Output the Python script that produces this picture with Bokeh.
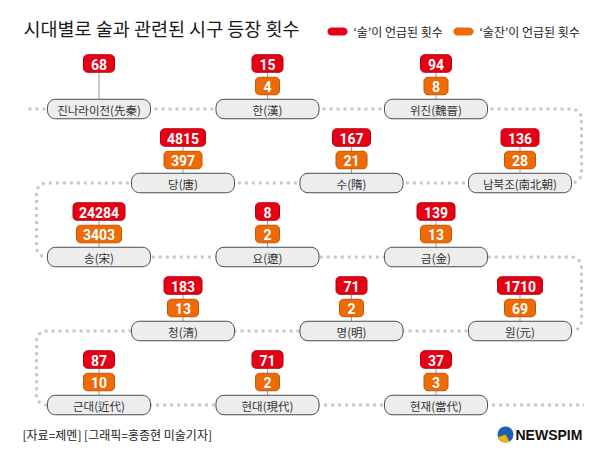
import numpy as np
from bokeh.plotting import figure
from bokeh.models import Range1d
from bokeh.core.properties import value
from bokeh.embed import file_html
from bokeh.resources import INLINE

# ---------------- data ----------------
title = "시대별로 술과 관련된 시구 등장 횟수"
legend_labels = ["‘술’이 언급된 횟수", "‘술잔’이 언급된 횟수"]
eras = ["진나라이전(先秦)", "한(漢)", "위진(魏晉)",
        "남북조(南北朝)", "수(隋)", "당(唐)",
        "송(宋)", "요(遼)", "금(金)",
        "원(元)", "명(明)", "청(清)",
        "근대(近代)", "현대(現代)", "현재(當代)"]
sul_counts = [68, 15, 94, 136, 167, 4815, 24284, 8, 139, 1710, 71, 183, 87, 71, 37]
suljan_counts = [None, 4, 8, 28, 21, 397, 3403, 2, 13, 69, 2, 13, 10, 2, 3]
source_note = "[자료=제멘] [그래픽=홍종현 미술기자]"
brand = "NEWSPIM"

# ---------------- style / layout ----------------
RED, RED_EDGE = "#e50015", "#b8000f"
ORANGE, ORANGE_EDGE = "#ee6a06", "#c45500"
KFONT = value("Noto Sans CJK KR")
NFONT = value("Roboto")
ROW_Y0, ROW_DY = 108.5, 74.0
COL_X0 = [98.5, 182.5]
COL_DX = 168.5
BOX_W, BOX_H = 103, 19.5
BADGE_H = 17.5
RED_OFF, ORA_OFF = -45.5, -23.0


def rrect(cx, cy, w, h, r, n=7):
    a, b = w / 2 - r, h / 2 - r
    xs, ys = [], []
    for sx, sy, a0 in [(1, -1, -90), (1, 1, 0), (-1, 1, 90), (-1, -1, 180)]:
        ang = np.radians(np.linspace(a0, a0 + 90, n))
        xs += list(cx + sx * a + r * np.cos(ang))
        ys += list(cy + sy * b + r * np.sin(ang))
    return xs, ys


def arc(cx, cy, r, a0, a1, n=8):
    ang = np.radians(np.linspace(a0, a1, n))
    return list(cx + r * np.cos(ang)), list(cy + r * np.sin(ang))


p = figure(width=584, height=444, x_range=Range1d(0, 584), y_range=Range1d(444, 0),
           output_backend="svg", toolbar_location=None,
           x_axis_location=None, y_axis_location=None, min_border=0)
p.grid.visible = False
p.outline_line_color = None
p.background_fill_color = "white"
p.border_fill_color = "white"

# positions from data order (snake layout)
n = len(eras)
cx_list, cy_list = [], []
for i in range(n):
    row, col = divmod(i, 3)
    if row % 2 == 1:
        col = 2 - col
    cx_list.append(COL_X0[row % 2] + COL_DX * col)
    cy_list.append(ROW_Y0 + ROW_DY * row)
rows_y = sorted(set(cy_list))

# dotted path
xl, xr, r = 36.0, 581.0, 10.0
px, py = [28.0], [rows_y[0]]
for k in range(len(rows_y) - 1):
    ya, yb = rows_y[k], rows_y[k + 1]
    if k % 2 == 0:
        ax, ay = arc(xr - r, ya + r, r, -90, 0); px += ax; py += ay
        ax, ay = arc(xr - r, yb - r, r, 0, 90); px += ax; py += ay
    else:
        ax, ay = arc(xl + r, ya + r, r, -90, -180); px += ax; py += ay
        ax, ay = arc(xl + r, yb - r, r, 180, 90); px += ax; py += ay
px.append(588.0); py.append(rows_y[-1])
p.line(px, py, line_color="#c8c8c8", line_width=3, line_dash="3 4")

# connectors
p.segment(x0=cx_list, y0=[y + RED_OFF for y in cy_list], x1=cx_list,
          y1=[y - BOX_H / 2 for y in cy_list], line_color="#9a9a9a", line_width=1)

# era boxes
bx, by = [], []
for cx, cy in zip(cx_list, cy_list):
    xs, ys = rrect(cx, cy, BOX_W, BOX_H, 8)
    bx.append(xs); by.append(ys)
p.patches(bx, by, fill_color="#ededed", line_color="#4a4a4a", line_width=1)
p.text(x=cx_list, y=[y + 0.5 for y in cy_list], text=eras, text_font=KFONT,
       text_font_size="11.5px", text_color="#333333", text_align="center",
       text_baseline="middle")


def badge_w(v):
    return 7 * len(str(v)) + 17

# red badges
rx, ry, rt, rtx, rty = [], [], [], [], []
for cx, cy, v in zip(cx_list, cy_list, sul_counts):
    xs, ys = rrect(cx, cy + RED_OFF, badge_w(v), BADGE_H, 4)
    rx.append(xs); ry.append(ys)
    rt.append(str(v)); rtx.append(cx); rty.append(cy + RED_OFF + 0.5)
p.patches(rx, ry, fill_color=RED, line_color=RED_EDGE, line_width=1)
p.text(x=rtx, y=rty, text=rt, text_font=NFONT, text_font_style="bold",
       text_font_size="14px", text_color="white", text_align="center",
       text_baseline="middle")

# orange badges
ox, oy, ot, otx, oty = [], [], [], [], []
for cx, cy, v in zip(cx_list, cy_list, suljan_counts):
    if v is None:
        continue
    xs, ys = rrect(cx, cy + ORA_OFF, badge_w(v), BADGE_H, 4)
    ox.append(xs); oy.append(ys)
    ot.append(str(v)); otx.append(cx); oty.append(cy + ORA_OFF + 0.5)
p.patches(ox, oy, fill_color=ORANGE, line_color=ORANGE_EDGE, line_width=1)
p.text(x=otx, y=oty, text=ot, text_font=NFONT, text_font_style="bold",
       text_font_size="14px", text_color="white", text_align="center",
       text_baseline="middle")

# title
p.text(x=[23], y=[27], text=[title], text_font=KFONT, text_font_size="18.5px",
       text_color="#1a1a1a", text_baseline="middle")

# legend
for lx, col, lab in [(327, RED, legend_labels[0]), (453, ORANGE, legend_labels[1])]:
    xs, ys = rrect(lx + 10, 31, 20, 8, 4)
    p.patch(xs, ys, fill_color=col, line_color=None)
    p.text(x=[lx + 26], y=[31], text=[lab], text_font=KFONT, text_font_size="12px",
           text_color="#222222", text_baseline="middle")

# footer
p.text(x=[22], y=[434], text=[source_note], text_font=KFONT, text_font_size="12px",
       text_color="#222222", text_baseline="middle")

# logo
p.circle(x=[505], y=[434], radius=8, fill_color="#1c5fb4", line_color=None)
p.wedge(x=[505], y=[434], radius=8, start_angle=np.radians(200), end_angle=np.radians(300),
        fill_color="#f4b400", line_color=None)
p.text(x=[515], y=[434.5], text=[brand], text_font=value("Liberation Sans"),
       text_font_style="bold", text_font_size="14px", text_color="#111111",
       text_baseline="middle")

open("out.html", "w").write(file_html(p, INLINE))
